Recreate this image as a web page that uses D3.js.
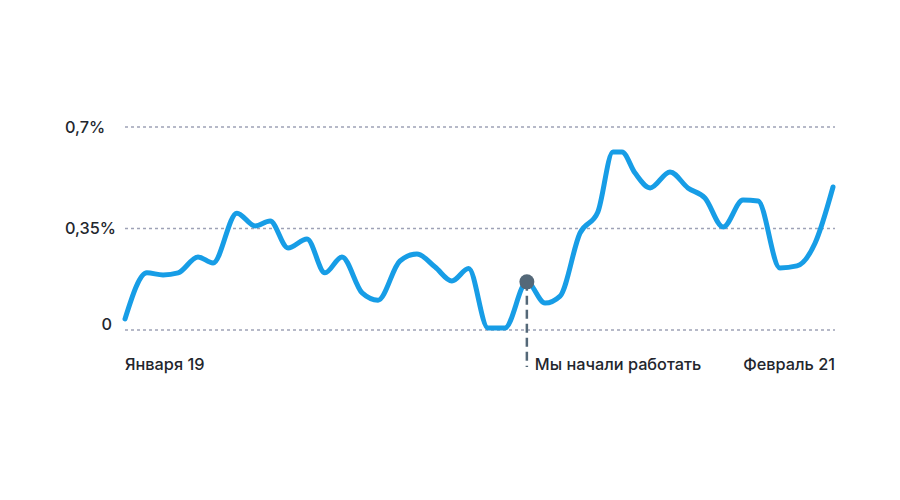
<!DOCTYPE html>
<html>
<head>
<meta charset="utf-8">
<script src="https://cdn.jsdelivr.net/npm/d3@7"></script>
<style>
  html, body { margin: 0; padding: 0; background: #fff; }
  svg text { font-family: Inter, "Noto Sans", sans-serif; font-weight: 500; fill: #23262d; }
</style>
</head>
<body>
<div id="chart"></div>
<script>
// months since Jan 2019 for each point
let months = [0, 0.77, 1.34, 1.87, 2.57, 3.10, 3.94, 4.58, 5.11, 5.74, 6.41, 7.04, 7.64, 8.35, 8.91,
  9.68, 10.28, 10.92, 11.51, 12.10, 12.78, 13.38, 14.15, 14.79, 15.32, 16.02, 16.65, 17.18, 17.50,
  17.96, 18.49, 19.19, 19.82, 20.42, 21.06, 21.76, 22.29, 23.06, 23.66, 24.30, 24.93];

// share, %
let values = [0.038, 0.197, 0.190, 0.197, 0.252, 0.231, 0.403, 0.359, 0.376, 0.283, 0.314, 0.197, 0.252, 0.128, 0.103,
  0.238, 0.262, 0.217, 0.169, 0.212, 0.007, 0.007, 0.166, 0.093, 0.117, 0.334, 0.407, 0.614, 0.614,
  0.541, 0.490, 0.545, 0.490, 0.455, 0.355, 0.448, 0.445, 0.214, 0.221, 0.300, 0.493];

let yTicks = [0, 0.35, 0.7];
let yTickLabels = ['0', '0,35%', '0,7%'];

let xLabels = ['Января 19', 'Февраль 21'];
let markerIndex = 22;
let markerLabel = 'Мы начали работать';

// svg dimensions
let svgWidth = 900,
    svgHeight = 500;

let margin = { top: 127, right: 65, bottom: 170, left: 125 };
let chartWidth = svgWidth - margin.left - margin.right;
let chartHeight = svgHeight - margin.top - margin.bottom;

let svg = d3.select('#chart')
  .append('svg')
  .attr('width', svgWidth)
  .attr('height', svgHeight);

let g = svg.append('g')
  .attr('transform', `translate(${margin.left}, ${margin.top})`);

let data = months.map((m, i) => ({ m: m, v: values[i] }));

let xScale = d3.scaleLinear().domain([0, 25]).range([0, chartWidth]);
let yScale = d3.scaleLinear().domain([0, 0.7]).range([chartHeight, 0]);

// grid lines
g.append('g')
  .selectAll('line')
  .data(yTicks)
  .join('line')
  .attr('x1', 0)
  .attr('x2', chartWidth)
  .attr('y1', d => yScale(d))
  .attr('y2', d => yScale(d))
  .attr('stroke', '#9ea2b6')
  .attr('stroke-width', 1.3)
  .attr('stroke-dasharray', '3,3');

// y labels: the non-zero ones start at the left, the 0 sits on its line
g.append('g')
  .selectAll('text')
  .data(yTicks)
  .join('text')
  .attr('x', d => d === 0 ? -13 : -60)
  .attr('y', d => yScale(d))
  .attr('dy', d => d === 0 ? '0' : '0.36em')
  .attr('text-anchor', d => d === 0 ? 'end' : 'start')
  .attr('font-size', 16.3)
  .text((d, i) => yTickLabels[i]);

// x labels
g.append('text')
  .attr('x', xScale(0))
  .attr('y', chartHeight + 40)
  .attr('font-size', 16.3)
  .text(xLabels[0]);

g.append('text')
  .attr('x', xScale(25))
  .attr('y', chartHeight + 40)
  .attr('text-anchor', 'end')
  .attr('font-size', 16.3)
  .text(xLabels[1]);

// line
let line = d3.line()
  .x(d => xScale(d.m))
  .y(d => yScale(d.v))
  .curve(d3.curveMonotoneX);

g.append('path')
  .datum(data)
  .attr('fill', 'none')
  .attr('stroke', '#179de6')
  .attr('stroke-width', 5)
  .attr('stroke-linejoin', 'round')
  .attr('stroke-linecap', 'round')
  .attr('d', line);

// marker
let mk = data[markerIndex];
g.append('line')
  .attr('x1', xScale(mk.m))
  .attr('x2', xScale(mk.m))
  .attr('y1', yScale(mk.v))
  .attr('y2', chartHeight + 37)
  .attr('stroke', '#546878')
  .attr('stroke-width', 2.5)
  .attr('stroke-dasharray', '9,5');

g.append('circle')
  .attr('cx', xScale(mk.m))
  .attr('cy', yScale(mk.v))
  .attr('r', 7.5)
  .attr('fill', '#546878');

g.append('text')
  .attr('x', xScale(mk.m) + 8)
  .attr('y', chartHeight + 40)
  .attr('font-size', 16.3)
  .text(markerLabel);
</script>
</body>
</html>
